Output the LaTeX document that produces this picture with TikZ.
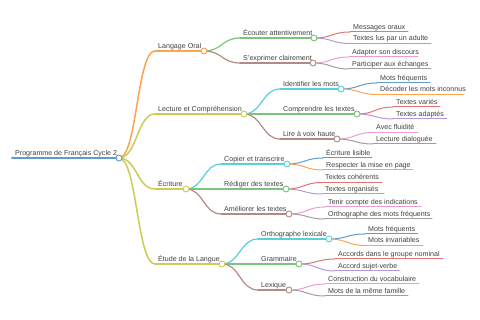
\documentclass[tikz,border=0pt]{standalone}
\usepackage{fontspec}
\setmainfont{Liberation Sans}
\usetikzlibrary{calc}
\definecolor{k0}{HTML}{1F77B4}
\definecolor{k1}{HTML}{FF7F0E}
\definecolor{k2}{HTML}{2CA02C}
\definecolor{k3}{HTML}{D62728}
\definecolor{k4}{HTML}{9467BD}
\definecolor{k5}{HTML}{8C564B}
\definecolor{k6}{HTML}{E377C2}
\definecolor{k7}{HTML}{7F7F7F}
\definecolor{k8}{HTML}{BCBD22}
\definecolor{k9}{HTML}{17BECF}
\colorlet{c0}{k0!72!white}
\colorlet{c1}{k1!72!white}
\colorlet{c2}{k2!62!white}
\colorlet{c3}{k3!65!white}
\colorlet{c4}{k4!68!white}
\colorlet{c5}{k5!68!white}
\colorlet{c6}{k6!72!white}
\colorlet{c7}{k7!75!white}
\colorlet{c8}{k8!78!white}
\colorlet{c9}{k9!72!white}
\tikzset{
  lbl/.style={font=\fontsize{7.1}{8}\selectfont, text=black!75, inner sep=0pt, anchor=base west},
  dot/.style={circle, fill=white, minimum size=6pt, inner sep=0pt, line width=0.9pt},
  stem/.style={line cap=round}
}
% name, x start, y, x end, colour, width, text
\newcommand\mmbranch[7]{%
  \coordinate (#1-s) at (#2,#3);
  \coordinate (#1) at (#4,#3);
  \node[lbl] (#1-t) at ($(#1-s)+(3,-2.5)$) {#7};
  \draw[stem, draw=#5, line width=#6] (#1-s) -- (#1);
}
% from (parent circle), to (child name), colour, width
\newcommand\mmlink[4]{%
  \draw[stem, draw=#3, line width=#4] let \p1=(#1), \p2=(#2-s) in
    (\p1) .. controls ({(\x1+\x2)/2},\y1) and ({(\x1+\x2)/2},\y2) .. (\p2);
}
\newcommand\mmdot[2]{\node[dot, draw=#2] (#1-d) at (#1) {};}
\begin{document}
\begin{tikzpicture}[x=1pt,y=-1pt]
\useasboundingbox (0,0) rectangle (480,320);
% root
\mmbranch{root}{12}{158}{119}{c0}{2}{Programme de Français Cycle 2}
% level 1
\mmbranch{lo}{155}{51}{204}{c1}{1.5}{Langage Oral}
\mmbranch{lc}{155}{114}{244}{c8}{1.5}{Lecture et Compréhension}
\mmbranch{ec}{155}{189}{186}{c8}{1.5}{Écriture}
\mmbranch{el}{155}{264}{222}{c8}{1.5}{Étude de la Langue}
% level 2
\mmbranch{lo1}{240}{38}{314}{c2}{1.2}{Écouter attentivement}
\mmbranch{lo2}{240}{63}{313}{c5}{1.2}{S'exprimer clairement}
\mmbranch{lc1}{280}{89}{341}{c9}{1.2}{Identifier les mots}
\mmbranch{lc2}{280}{114}{357}{c2}{1.2}{Comprendre les textes}
\mmbranch{lc3}{280}{139}{337}{c5}{1.2}{Lire à voix haute}
\mmbranch{ec1}{221}{164}{287}{c9}{1.2}{Copier et transcrire}
\mmbranch{ec2}{221}{189}{286}{c2}{1.2}{Rédiger des textes}
\mmbranch{ec3}{221}{214}{289}{c5}{1.2}{Améliorer les textes}
\mmbranch{el1}{258}{239}{329}{c9}{1.2}{Orthographe lexicale}
\mmbranch{el2}{258}{264}{299}{c2}{1.2}{Grammaire}
\mmbranch{el3}{258}{290}{289}{c5}{1.2}{Lexique}
% leaves
\mmbranch{lo1a}{350}{32}{408}{c3}{1}{Messages oraux}
\mmbranch{lo1b}{350}{43.5}{431}{c4}{1}{Textes lus par un adulte}
\mmbranch{lo2a}{349}{57}{418}{c6}{1}{Adapter son discours}
\mmbranch{lo2b}{349}{69}{431}{c7}{1}{Participer aux échanges}
\mmbranch{lc1a}{377}{83}{430}{c0}{1}{Mots fréquents}
\mmbranch{lc1b}{377}{94.5}{464}{c1}{1}{Décoder les mots inconnus}
\mmbranch{lc2a}{393}{107}{440}{c3}{1}{Textes variés}
\mmbranch{lc2b}{393}{119}{447}{c4}{1}{Textes adaptés}
\mmbranch{lc3a}{373}{132.5}{418}{c6}{1}{Avec fluidité}
\mmbranch{lc3b}{373}{144}{436}{c7}{1}{Lecture dialoguée}
\mmbranch{ec1a}{323}{158}{372}{c0}{1}{Écriture lisible}
\mmbranch{ec1b}{323}{170}{413}{c1}{1}{Respecter la mise en page}
\mmbranch{ec2a}{322}{182.5}{382}{c3}{1}{Textes cohérents}
\mmbranch{ec2b}{322}{194}{384}{c4}{1}{Textes organisés}
\mmbranch{ec3a}{325}{207}{421}{c6}{1}{Tenir compte des indications}
\mmbranch{ec3b}{325}{219}{432}{c7}{1}{Orthographe des mots fréquents}
\mmbranch{el1a}{365}{234}{418}{c0}{1}{Mots fréquents}
\mmbranch{el1b}{365}{245.5}{423}{c1}{1}{Mots invariables}
\mmbranch{el2a}{335}{259}{443}{c3}{1}{Accords dans le groupe nominal}
\mmbranch{el2b}{335}{271}{400}{c4}{1}{Accord sujet-verbe}
\mmbranch{el3a}{325}{284}{419}{c6}{1}{Construction du vocabulaire}
\mmbranch{el3b}{325}{296}{408}{c7}{1}{Mots de la même famille}
% links
\mmlink{root}{lo}{c1}{1.5}
\mmlink{root}{lc}{c8}{1.5}
\mmlink{root}{ec}{c8}{1.5}
\mmlink{root}{el}{c8}{1.5}
\mmlink{lo}{lo1}{c2}{1.2}
\mmlink{lo}{lo2}{c5}{1.2}
\mmlink{lc}{lc1}{c9}{1.2}
\mmlink{lc}{lc2}{c2}{1.2}
\mmlink{lc}{lc3}{c5}{1.2}
\mmlink{ec}{ec1}{c9}{1.2}
\mmlink{ec}{ec2}{c2}{1.2}
\mmlink{ec}{ec3}{c5}{1.2}
\mmlink{el}{el1}{c9}{1.2}
\mmlink{el}{el2}{c2}{1.2}
\mmlink{el}{el3}{c5}{1.2}
\mmlink{lo1}{lo1a}{c3}{1}
\mmlink{lo1}{lo1b}{c4}{1}
\mmlink{lo2}{lo2a}{c6}{1}
\mmlink{lo2}{lo2b}{c7}{1}
\mmlink{lc1}{lc1a}{c0}{1}
\mmlink{lc1}{lc1b}{c1}{1}
\mmlink{lc2}{lc2a}{c3}{1}
\mmlink{lc2}{lc2b}{c4}{1}
\mmlink{lc3}{lc3a}{c6}{1}
\mmlink{lc3}{lc3b}{c7}{1}
\mmlink{ec1}{ec1a}{c0}{1}
\mmlink{ec1}{ec1b}{c1}{1}
\mmlink{ec2}{ec2a}{c3}{1}
\mmlink{ec2}{ec2b}{c4}{1}
\mmlink{ec3}{ec3a}{c6}{1}
\mmlink{ec3}{ec3b}{c7}{1}
\mmlink{el1}{el1a}{c0}{1}
\mmlink{el1}{el1b}{c1}{1}
\mmlink{el2}{el2a}{c3}{1}
\mmlink{el2}{el2b}{c4}{1}
\mmlink{el3}{el3a}{c6}{1}
\mmlink{el3}{el3b}{c7}{1}
% dots
\mmdot{root}{c0}
\mmdot{lo}{c1}
\mmdot{lc}{c8}
\mmdot{ec}{c8}
\mmdot{el}{c8}
\mmdot{lo1}{c2}
\mmdot{lo2}{c5}
\mmdot{lc1}{c9}
\mmdot{lc2}{c2}
\mmdot{lc3}{c5}
\mmdot{ec1}{c9}
\mmdot{ec2}{c2}
\mmdot{ec3}{c5}
\mmdot{el1}{c9}
\mmdot{el2}{c2}
\mmdot{el3}{c5}
\end{tikzpicture}
\end{document}
